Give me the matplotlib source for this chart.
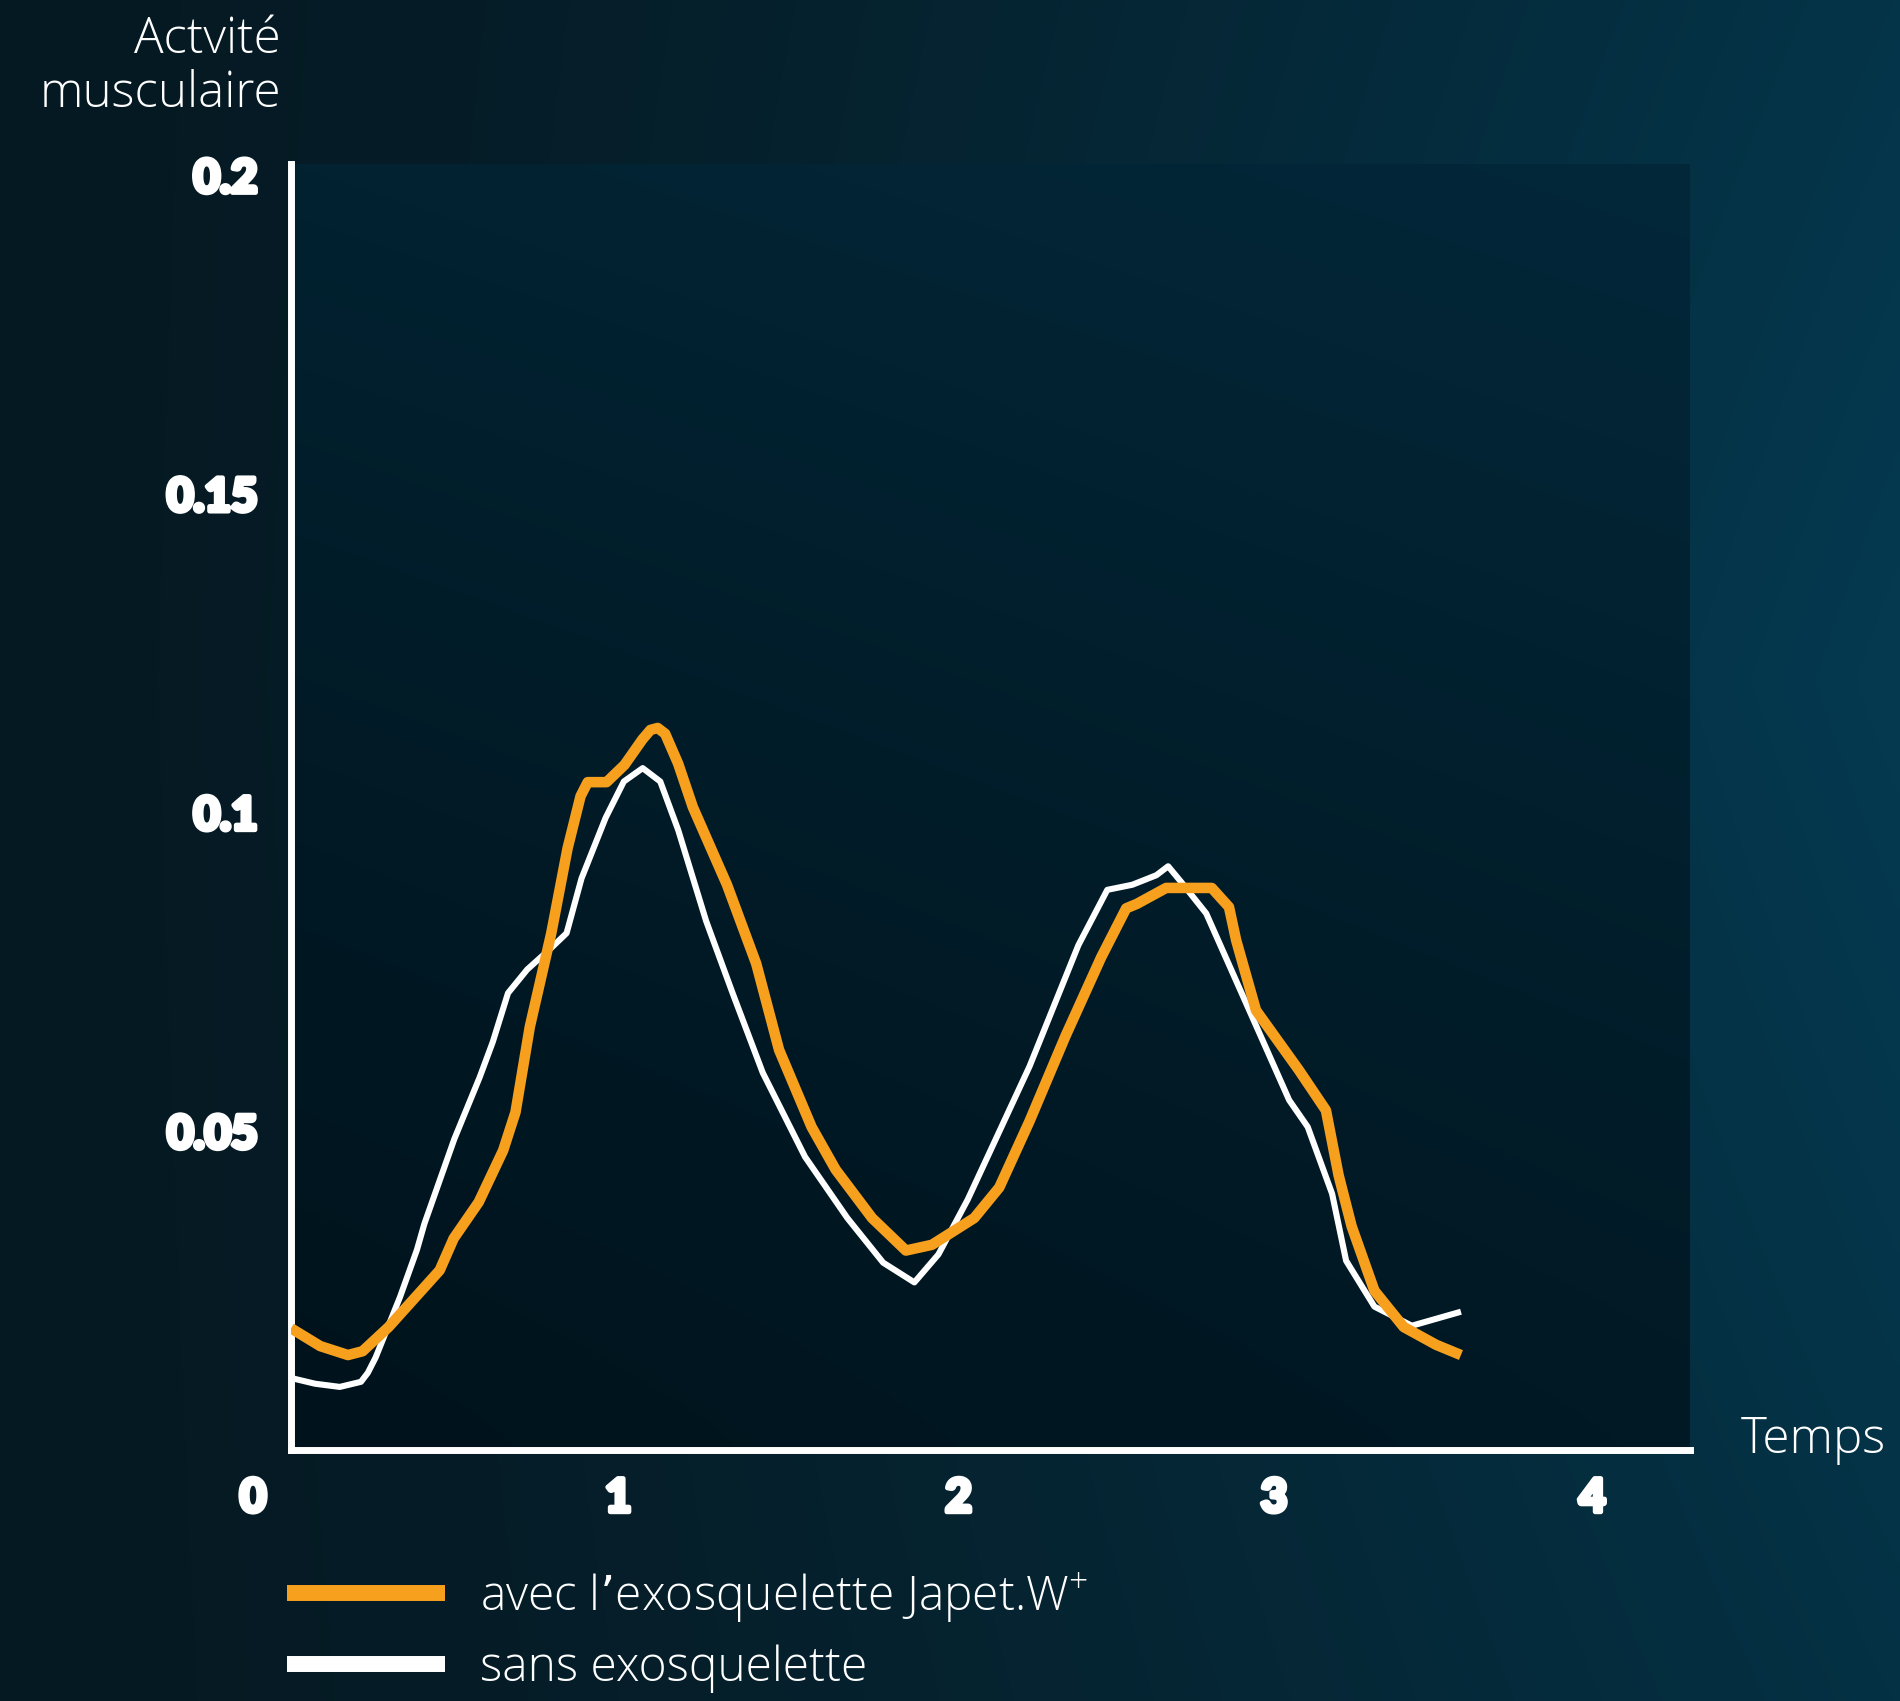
import matplotlib
matplotlib.use("Agg")
import matplotlib.pyplot as plt
from matplotlib.lines import Line2D
import matplotlib.transforms as mtransforms
import matplotlib.patheffects as pe
import numpy as np

# courbes (temps, activite)
orange_x = [0.0, 0.09, 0.175, 0.22, 0.30, 0.39, 0.457, 0.50, 0.577, 0.652, 0.69, 0.734,
            0.80, 0.85, 0.89, 0.912, 0.97, 1.025, 1.08, 1.105, 1.127, 1.15, 1.19, 1.235,
            1.34, 1.43, 1.50, 1.60, 1.674, 1.786, 1.89, 1.97, 2.10, 2.177, 2.27, 2.38,
            2.49, 2.567, 2.60, 2.69, 2.83, 2.883, 2.905, 2.966, 3.098, 3.181, 3.22, 3.26,
            3.33, 3.42, 3.52, 3.596]
orange_y = [0.0191, 0.0163, 0.0149, 0.0155, 0.0193, 0.0244, 0.0282, 0.0332, 0.0389, 0.047,
            0.0530, 0.0664, 0.0811, 0.0944, 0.1026, 0.1048, 0.1048, 0.1075, 0.1115, 0.1130,
            0.1133, 0.1124, 0.1077, 0.1009, 0.0887, 0.0763, 0.0628, 0.0507, 0.044, 0.0364,
            0.0313, 0.0322, 0.0364, 0.0412, 0.0516, 0.0649, 0.0773, 0.085, 0.0857, 0.0882,
            0.0882, 0.0852, 0.080, 0.069, 0.0596, 0.0533, 0.0431, 0.0351, 0.025, 0.0193,
            0.0165, 0.0149]

white_x = [0.0, 0.074, 0.15, 0.215, 0.236, 0.26, 0.335, 0.387, 0.41, 0.502, 0.58, 0.62,
           0.667, 0.726, 0.80, 0.847, 0.893, 0.967, 1.023, 1.081, 1.135, 1.19, 1.276, 1.358,
           1.45, 1.58, 1.71, 1.82, 1.916, 1.99, 2.08, 2.27, 2.42, 2.509, 2.586, 2.66, 2.696,
           2.735, 2.813, 2.954, 3.068, 3.125, 3.2, 3.243, 3.33, 3.445, 3.596]
white_y = [0.0113, 0.0104, 0.0099, 0.0107, 0.0121, 0.0145, 0.024, 0.0314, 0.0355, 0.0488,
           0.0585, 0.064, 0.0717, 0.0754, 0.0788, 0.0811, 0.0897, 0.0992, 0.1049, 0.107,
           0.1049, 0.0973, 0.083, 0.0716, 0.0592, 0.046, 0.0364, 0.0294, 0.0263, 0.0307,
           0.0393, 0.0602, 0.0792, 0.0879, 0.0887, 0.0902, 0.0916, 0.0892, 0.0842, 0.068,
           0.0549, 0.0507, 0.0402, 0.0297, 0.0225, 0.0195, 0.0217]

xticks = [0, 1, 2, 3, 4]
xtick_labels = ["0", "1", "2", "3", "4"]
yticks = [0.05, 0.1, 0.15, 0.2]
ytick_labels = ["0.05", "0.1", "0.15", "0.2"]

label_orange = "avec l\u2019exosquelette Japet.W$\\mathregular{^{+}}$"
label_white = "sans exosquelette"

ORANGE = "#F7A01D"
TXT_FONTS = ["Open Sans", "DejaVu Sans"]
NUM_FONTS = ["Lato", "DejaVu Sans"]


def hex2rgb(h):
    h = h.lstrip("#")
    return np.array([int(h[i:i + 2], 16) / 255 for i in (0, 2, 4)])


fig = plt.figure(figsize=(19, 17.01), dpi=100)

# fond degrade
bg = fig.add_axes([0, 0, 1, 1], zorder=-2)
gx, gy = np.meshgrid(np.linspace(0, 1, 400), np.linspace(1, 0, 360))
t = np.clip(gx ** 1.4 * (1 - 0.45 * np.abs(gy - 0.6)), 0, 1)
dark, light = hex2rgb("#061922"), hex2rgb("#043a51")
img = dark[None, None, :] * (1 - t[..., None]) + light[None, None, :] * t[..., None]
bg.imshow(img, aspect="auto", extent=[0, 1, 0, 1], interpolation="bicubic")
bg.set_axis_off()

ax = fig.add_axes([291 / 1900, 251 / 1701, 1399 / 1900, 1286 / 1701])
ax.set_xlim(0, 4.3)
ax.set_ylim(0, 0.2018)

# panneau plus sombre derriere les courbes
px, py = np.meshgrid(np.linspace(0, 1, 200), np.linspace(1, 0, 200))
tp = np.clip(py ** 1.2 * 0.7 + px * 0.3, 0, 1)
pbot, ptop = hex2rgb("#00131c"), hex2rgb("#03283a")
pimg = pbot[None, None, :] * (1 - tp[..., None]) + ptop[None, None, :] * tp[..., None]
ax.imshow(pimg, aspect="auto", extent=[0, 4.3, 0, 0.2018], zorder=0,
          interpolation="bicubic")

ax.plot(white_x, white_y, color="white", lw=4.4, zorder=3,
        solid_joinstyle="round", solid_capstyle="butt")
ax.plot(orange_x, orange_y, color=ORANGE, lw=7.6, zorder=4,
        solid_joinstyle="round", solid_capstyle="butt")

for side in ("top", "right"):
    ax.spines[side].set_visible(False)
for side in ("left", "bottom"):
    ax.spines[side].set_color("white")
    ax.spines[side].set_linewidth(5)
    ax.spines[side].set_capstyle("projecting")

ax.set_xticks(xticks)
ax.set_xticklabels(xtick_labels)
ax.set_yticks(yticks)
ax.set_yticklabels(ytick_labels)
ax.tick_params(length=0, colors="white")
ax.tick_params(axis="x", pad=20)
ax.tick_params(axis="y", pad=24)
for lab in ax.get_xticklabels() + ax.get_yticklabels():
    lab.set_family(NUM_FONTS)
    lab.set_fontweight("black")
    lab.set_fontsize(33)
    lab.set_color("white")
    lab.set_path_effects([pe.withStroke(linewidth=3.5, foreground="white")])

# petits decalages des etiquettes comme sur l'original
shifts = [-0.38, 0.02, 0.17, 0.07, 0.0]
for lab, dx in zip(ax.get_xticklabels(), shifts):
    lab.set_transform(lab.get_transform() + mtransforms.ScaledTranslation(dx, 0, fig.dpi_scale_trans))

fig.text(281 / 1900, 1 - 40 / 1701, "Actvit\u00e9", ha="right", va="center",
         color="white", fontsize=35.5, family=TXT_FONTS, fontweight="light")
fig.text(281 / 1900, 1 - 94 / 1701, "musculaire", ha="right", va="center",
         color="white", fontsize=35.5, family=TXT_FONTS, fontweight="light")
fig.text(1741 / 1900, 1 - 1440 / 1701, "Temps", ha="left", va="center",
         color="white", fontsize=35.5, family=TXT_FONTS, fontweight="light")

handles = [Line2D([], [], color=ORANGE, lw=11.5, solid_capstyle="butt"),
           Line2D([], [], color="white", lw=11.5, solid_capstyle="butt")]
leg = fig.legend(handles, [label_orange, label_white], loc="upper left",
                 bbox_to_anchor=(287 / 1900, 1 - 1570 / 1701), frameon=False,
                 handlelength=3.3, handletextpad=0.72, labelspacing=0.42,
                 borderpad=0, borderaxespad=0,
                 prop={"family": TXT_FONTS, "size": 34.5, "weight": "light"})
for txt in leg.get_texts():
    txt.set_color("white")

fig.savefig("out.png", dpi=100)
